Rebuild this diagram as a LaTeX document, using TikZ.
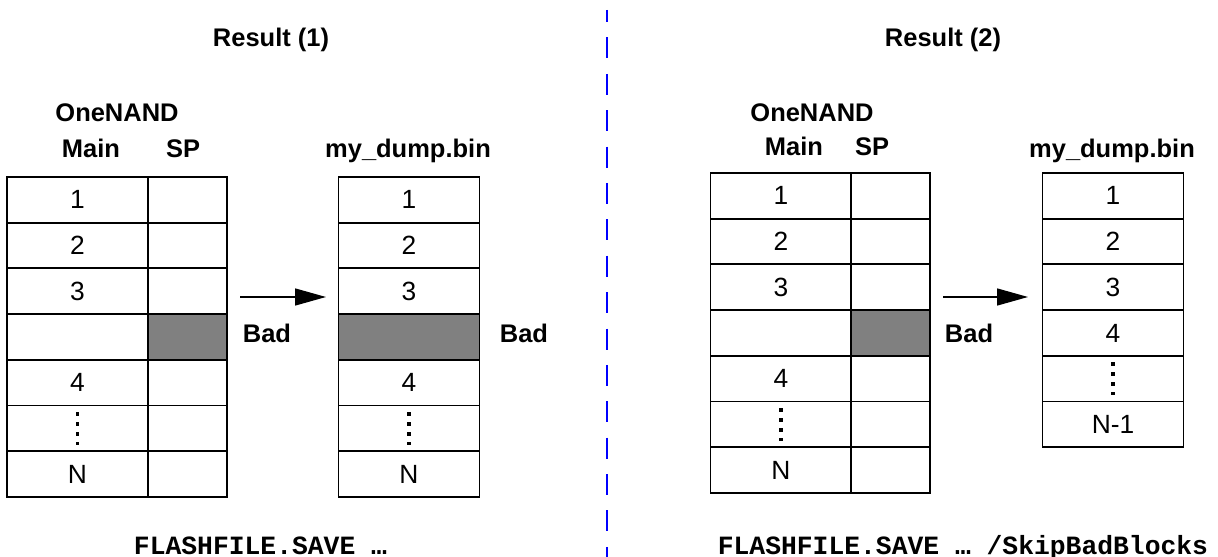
\documentclass[tikz,border=0pt]{standalone}
\usepackage{fontspec}
\setmainfont{Liberation Sans}
\setmonofont{Liberation Mono}
\usepackage{tikz}
\usetikzlibrary{arrows.meta, positioning}
\usepackage{xcolor}
\definecolor{badgray}{RGB}{128, 128, 128}
\definecolor{sepblue}{RGB}{0, 0, 255}

\tikzset{
  cell/.style={draw, line width=1.1pt, inner sep=0pt, minimum height=0.914cm,
    font=\fontsize{15}{17}\selectfont},
  maincell/.style={cell, minimum width=2.82cm},
  spcell/.style={cell, minimum width=1.58cm},
  lbl/.style={font=\fontsize{14.5}{17}\selectfont\bfseries, inner sep=0pt, anchor=base},
  cmd/.style={font=\fontsize{15}{17}\selectfont\ttfamily\bfseries, inner sep=0pt, anchor=base},
  vdots/.style={line width=0.065cm, dash pattern=on 0.07cm off 0.13cm},
  copyarrow/.style={line width=0.85pt, -{Triangle[length=0.62cm, width=0.34cm]}},
}

\begin{document}
\begin{tikzpicture}[x=0.02cm, y=0.02cm]
  \useasboundingbox (0, 0) rectangle (1218, -557);

  % separator between the two results
  \draw[sepblue, line width=1pt, dash pattern=on 0.42cm off 0.308cm, dash phase=0.18cm]
    (607, -10) -- (607, -557);

  % ---------- Result (1) ----------
  \node[lbl] (titleA) at (271, -47) {Result (1)};
  \node[lbl] (chipA) at (117, -122) {OneNAND};
  \node[lbl] (mainA) at (91, -158) {Main};
  \node[lbl] (spA) at (183, -158) {SP};
  \node[lbl] (dumpA) at (408, -158) {my\_dump.bin};

  \foreach \txt/\f [count=\i] in {1/white,2/white,3/white,{}/white,4/white,{}/white,N/white} {
    \node[maincell] (A-main-\i) at (77.5, {-177-(\i-0.5)*45.7}) {\txt};
  }
  \foreach \f [count=\i] in {white,white,white,badgray,white,white,white} {
    \node[spcell, fill=\f] (A-sp-\i) at (187.5, {-177-(\i-0.5)*45.7}) {};
  }
  \foreach \txt/\f [count=\i] in {1/white,2/white,3/white,{}/badgray,4/white,{}/white,N/white} {
    \node[maincell, fill=\f] (A-dump-\i) at (409, {-177-(\i-0.5)*45.7}) {\txt};
  }
  \draw[vdots] ([yshift=-0.15cm]A-main-6.north) -- ([yshift=0.14cm]A-main-6.south);
  \draw[vdots] ([yshift=-0.15cm]A-dump-6.north) -- ([yshift=0.14cm]A-dump-6.south);

  \coordinate (arrA-from) at (240, -297);
  \coordinate (arrA-to) at (326, -297);
  \draw[copyarrow] (arrA-from) -- (arrA-to);
  \node[lbl] (badA) at (267, -343) {Bad};
  \node[lbl] (badA-dump) at (524, -343) {Bad};

  \node[cmd] (cmdA) at (260.5, -554) {FLASHFILE.SAVE …};

  % ---------- Result (2) ----------
  \node[lbl] (titleB) at (943, -47) {Result (2)};
  \node[lbl] (chipB) at (812, -122) {OneNAND};
  \node[lbl] (mainB) at (794, -156) {Main};
  \node[lbl] (spB) at (872, -156) {SP};
  \node[lbl] (dumpB) at (1112, -158) {my\_dump.bin};

  \foreach \txt [count=\i] in {1,2,3,{},4,{},N} {
    \node[maincell] (B-main-\i) at (781, {-173-(\i-0.5)*45.7}) {\txt};
  }
  \foreach \f [count=\i] in {white,white,white,badgray,white,white,white} {
    \node[spcell, fill=\f] (B-sp-\i) at (890.5, {-173-(\i-0.5)*45.7}) {};
  }
  \foreach \txt [count=\i] in {1,2,3,4,{},N-1} {
    \node[maincell] (B-dump-\i) at (1113, {-173-(\i-0.5)*45.7}) {\txt};
  }
  \draw[vdots] ([yshift=-0.15cm]B-main-6.north) -- ([yshift=0.14cm]B-main-6.south);
  \draw[vdots] ([yshift=-0.15cm]B-dump-5.north) -- ([yshift=0.14cm]B-dump-5.south);

  \coordinate (arrB-from) at (943, -297);
  \coordinate (arrB-to) at (1028, -297);
  \draw[copyarrow] (arrB-from) -- (arrB-to);
  \node[lbl] (badB) at (969, -343) {Bad};

  \node[cmd] (cmdB) at (963, -554) {FLASHFILE.SAVE … /SkipBadBlocks};
\end{tikzpicture}
\end{document}
